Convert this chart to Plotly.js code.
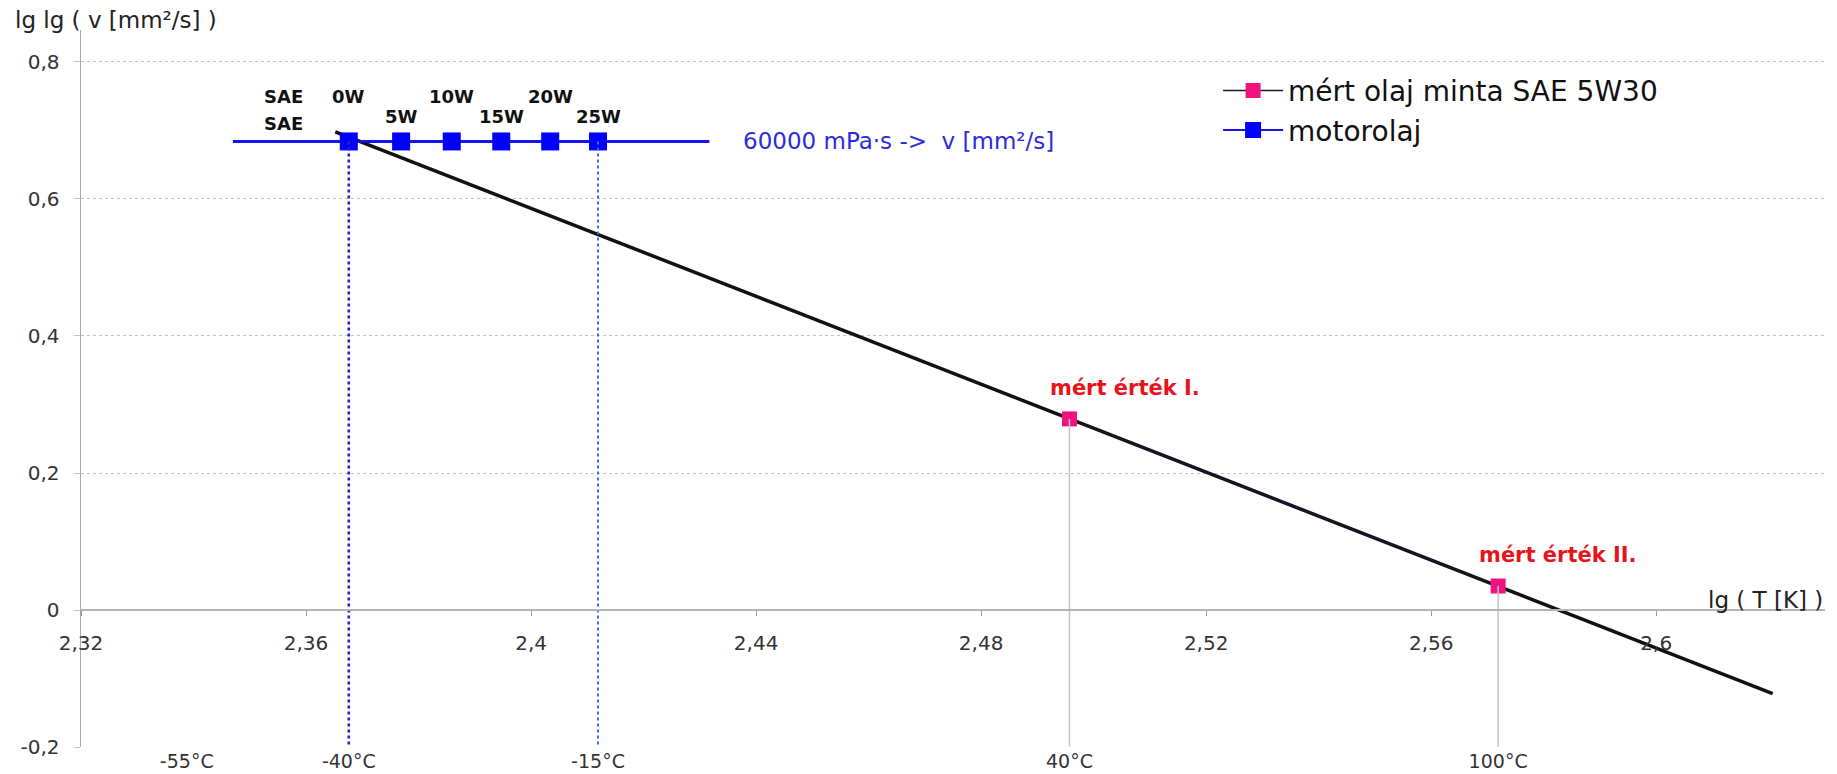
<!DOCTYPE html>
<html>
<head>
<meta charset="utf-8">
<script src="https://cdn.plot.ly/plotly-3.0.1.min.js"></script>
<style>
  html, body { margin: 0; padding: 0; background: #ffffff; }
  #chart { width: 1837px; height: 774px; }
</style>
</head>
<body>
<div id="chart"></div>
<script>
// ---------- data ----------
// SAE cold classes: pumping limit 60000 mPa·s, plotted at lg(T[K])
const saeClasses   = ['0W', '5W', '10W', '15W', '20W', '25W'];
const saeLgT       = [2.3676, 2.3769, 2.3859, 2.3947, 2.4034, 2.4119];
const saeLgLgV     = [0.684, 0.684, 0.684, 0.684, 0.684, 0.684];
const saeLineX     = [2.347, 2.4317];
const saeLineY     = [0.684, 0.684];

// Walther line of the measured oil sample
const waltherX     = [2.3652, 2.6207];
const waltherY     = [0.698, -0.122];

// measured points
const measuredLgT    = [2.4957, 2.5719];
const measuredLgLgV  = [0.279, 0.035];
const measuredLabels = ['mért érték I.', 'mért érték II.'];

// temperature axis (°C) at lg(T[K])
const tempLgT  = [2.3388, 2.3676, 2.4119, 2.4957, 2.5719];
const tempText = ['-55°C', '-40°C', '-15°C', '40°C', '100°C'];

// y ticks
const yTickVals = [-0.2, 0, 0.2, 0.4, 0.6, 0.8];
const yTickText = ['-0,2', '0', '0,2', '0,4', '0,6', '0,8'];

const xRange = [2.32, 2.63];
const yRange = [-0.2, 0.8467];
const yBottom = yRange[0];

// ---------- styles ----------
const FONT = 'DejaVu Sans, Arial, sans-serif';
const BLUE = '#1414f0';
const PINK = '#f0127f';
const RED  = '#e8141c';

// vertical drop lines for measured points (gray)
const dropX = [], dropY = [];
measuredLgT.forEach((t, i) => { dropX.push(t, t, null); dropY.push(measuredLgLgV[i], yBottom, null); });

const traces = [
  { // gray drop lines at 40°C and 100°C
    x: dropX, y: dropY, xaxis: 'x2', yaxis: 'y', mode: 'lines',
    line: { color: '#c4c4c4', width: 1.5 }, showlegend: false, hoverinfo: 'skip'
  },
  { // dotted line at 0W (-40°C)
    x: [saeLgT[0], saeLgT[0]], y: [saeLgLgV[0], yBottom], xaxis: 'x2', yaxis: 'y', mode: 'lines',
    line: { color: '#2222cc', width: 2.6, dash: 'dot' }, showlegend: false, hoverinfo: 'skip'
  },
  { // dotted line at 25W (-15°C)
    x: [saeLgT[5], saeLgT[5]], y: [saeLgLgV[5], yBottom], xaxis: 'x2', yaxis: 'y', mode: 'lines',
    line: { color: '#3f6df0', width: 2, dash: 'dot' }, showlegend: false, hoverinfo: 'skip'
  },
  { // 60000 mPa·s horizontal line
    x: saeLineX, y: saeLineY, mode: 'lines',
    line: { color: BLUE, width: 3 }, showlegend: false, hoverinfo: 'skip'
  },
  { // Walther line
    x: waltherX, y: waltherY, mode: 'lines',
    line: { color: '#111111', width: 3.5 }, showlegend: false, hoverinfo: 'skip'
  },
  {
    name: 'motorolaj', legendrank: 2,
    x: saeLgT, y: saeLgLgV, mode: 'lines+markers',
    line: { color: BLUE, width: 2 },
    marker: { symbol: 'square', color: '#0000ff', size: 18 }
  },
  {
    name: 'mért olaj minta SAE 5W30', legendrank: 1,
    x: measuredLgT, y: measuredLgLgV, mode: 'lines+markers',
    line: { color: '#1c1430', width: 1.5 },
    marker: { symbol: 'square', color: PINK, size: 15 }
  }
];

const annotations = [];
// SAE class labels (alternating rows)
saeClasses.forEach((c, i) => {
  annotations.push({
    x: saeLgT[i], y: saeLgLgV[i], xref: 'x', yref: 'y', text: '<b>' + c + '</b>',
    showarrow: false, xanchor: 'center', yanchor: 'middle',
    yshift: (i % 2 === 0) ? 45 : 25,
    font: { family: FONT, size: 18, color: '#111111' }
  });
});
// "SAE" labels
[45, 18].forEach(s => {
  annotations.push({
    x: saeLgT[0], y: saeLgLgV[0], xref: 'x', yref: 'y', text: '<b>SAE</b>',
    showarrow: false, xanchor: 'center', yanchor: 'middle', xshift: -65, yshift: s,
    font: { family: FONT, size: 18, color: '#111111' }
  });
});
// 60000 mPa·s label
annotations.push({
  x: saeLineX[1], y: saeLineY[1], xref: 'x', yref: 'y',
  text: '60000 mPa·s -&gt;\u00a0 v [mm²/s]',
  showarrow: false, xanchor: 'left', yanchor: 'middle', xshift: 32,
  font: { family: FONT, size: 23, color: '#2a2ae0' }
});
// measured value labels
measuredLabels.forEach((t, i) => {
  annotations.push({
    x: measuredLgT[i], y: measuredLgLgV[i], xref: 'x', yref: 'y', text: '<b>' + t + '</b>',
    showarrow: false, xanchor: 'left', yanchor: 'middle', xshift: -21, yshift: 31,
    font: { family: FONT, size: 21, color: RED }
  });
});
// axis titles
annotations.push({
  x: 0, y: 1, xref: 'paper', yref: 'paper', text: 'lg lg ( v [mm²/s] )',
  showarrow: false, xanchor: 'left', yanchor: 'middle', xshift: -68, yshift: 10,
  font: { family: FONT, size: 23, color: '#222222' }
});
annotations.push({
  x: 1, y: 0, xref: 'paper', yref: 'y', text: 'lg ( T [K] )',
  showarrow: false, xanchor: 'right', yanchor: 'middle', xshift: 0, yshift: 10,
  font: { family: FONT, size: 23, color: '#222222' }
});

const zeroPos = (0 - yRange[0]) / (yRange[1] - yRange[0]);

const layout = {
  width: 1837, height: 774,
  margin: { l: 81, r: 12, t: 30, b: 27 },
  paper_bgcolor: '#ffffff', plot_bgcolor: '#ffffff',
  separators: ', ',
  font: { family: FONT, color: '#333333' },
  showlegend: true,
  legend: {
    x: 0.652, y: 0.950, xanchor: 'left', yanchor: 'top',
    font: { family: FONT, size: 28, color: '#111111' },
    bgcolor: 'rgba(0,0,0,0)', itemwidth: 60, tracegroupgap: 0
  },
  xaxis: {
    range: xRange, anchor: 'free', position: zeroPos, side: 'bottom',
    tick0: 2.32, dtick: 0.04, showgrid: false, zeroline: false,
    showline: true, linecolor: '#b4b4b4', linewidth: 2,
    ticks: 'outside', ticklen: 5, tickcolor: '#9a9a9a',
    tickfont: { family: FONT, size: 20, color: '#333333' }, ticklabelstandoff: 10
  },
  xaxis2: {
    range: xRange, overlaying: 'x', anchor: 'y', side: 'bottom',
    tickvals: tempLgT, ticktext: tempText, showgrid: false, zeroline: false,
    showline: false, ticks: '',
    tickfont: { family: FONT, size: 19, color: '#333333' }, ticklabelstandoff: 1
  },
  yaxis: {
    range: yRange, tickvals: yTickVals, ticktext: yTickText,
    showgrid: true, gridcolor: '#c4c4c4', griddash: 'dot', gridwidth: 1,
    zeroline: false, showline: true, linecolor: '#a9a9a9', linewidth: 1.5,
    ticks: 'outside', ticklen: 6, tickcolor: '#c4c4c4',
    tickfont: { family: FONT, size: 20, color: '#333333' }, ticklabelstandoff: 10
  },
  annotations: annotations
};

Plotly.newPlot('chart', traces, layout, { displayModeBar: false, staticPlot: true });
</script>
</body>
</html>
